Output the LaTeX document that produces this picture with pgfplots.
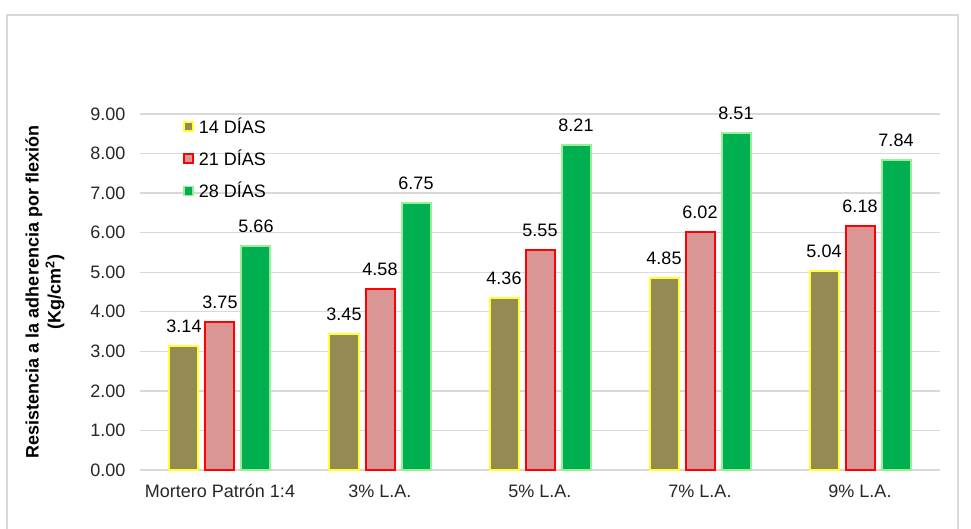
\documentclass[border=0pt]{standalone}
\usepackage{pgfplots}
\pgfplotsset{compat=1.18}
\usepackage{fontspec}
\setmainfont{Liberation Sans}
\definecolor{olive14}{HTML}{948A54}
\definecolor{yel14}{HTML}{FFFF33}
\definecolor{pink21}{HTML}{D99694}
\definecolor{red21}{HTML}{FF0000}
\definecolor{green28}{HTML}{00B050}
\definecolor{lgreen28}{HTML}{99EE99}
\definecolor{gridg}{HTML}{D9D9D9}
\newcommand\myfont{\fontsize{18pt}{22pt}\selectfont}
\begin{document}
\begin{tikzpicture}
\useasboundingbox (-140pt,-58pt) rectangle (831pt,470pt);
\draw[gridg, line width=1.5pt] (-133pt,-80pt) rectangle (818pt,455pt);
\begin{axis}[
  name=ax, at={(0pt,0pt)}, anchor=south west,
  scale only axis, width=800pt, height=356pt,
  xmin=-0.5, xmax=4.5, ymin=0, ymax=9,
  ytick={0,1,...,9},
  xtick={0,1,2,3,4},
  xticklabels={Mortero Patrón 1:4, 3\% L.A., 5\% L.A., 7\% L.A., 9\% L.A.},
  ymajorgrids, grid style={draw=gridg, line width=1.3pt},
  axis lines*=left,
  y axis line style={draw=none},
  x axis line style={draw=gridg, line width=1.3pt, -},
  major tick length=0pt,
  tick style={draw=none},
  /pgf/number format/.cd, fixed, fixed zerofill, precision=2, assume math mode=true,
  /pgfplots/.cd,
  every tick label/.append style={font=\myfont, text=black!85},
  yticklabel style={xshift=-11pt},
  xticklabel style={yshift=-11pt},
  ylabel={Resistencia a la adherencia por flexión\\(Kg/cm\textsuperscript{2})},
  ylabel style={at={(axis description cs:-0.11875,0.5)}, anchor=center, align=center, font=\myfont\bfseries},
  ybar, bar width=29pt,
  nodes near coords,
  every node near coord/.append style={font=\myfont, text=black, yshift=9pt,
     /pgf/number format/.cd, fixed, fixed zerofill, precision=2, assume math mode=true},
  legend style={draw=none, fill=none, at={(0.054,0.995)}, anchor=north west,
     font=\myfont, row sep=11pt, inner sep=0pt, nodes={inner xsep=5pt}},
  legend cell align=left,
  legend image code/.code={\draw[#1, line width=1.5pt] (0pt,-4.5pt) rectangle (9pt,4.5pt);},
  clip=false,
]
\addplot[fill=olive14, draw=yel14, line width=2pt, bar shift=-36pt] coordinates {(0,3.14) (1,3.45) (2,4.36) (3,4.85) (4,5.04)};
\addplot[fill=pink21, draw=red21, line width=2pt, bar shift=0pt] coordinates {(0,3.75) (1,4.58) (2,5.55) (3,6.02) (4,6.18)};
\addplot[fill=green28, draw=lgreen28, line width=2pt, bar shift=36pt] coordinates {(0,5.66) (1,6.75) (2,8.21) (3,8.51) (4,7.84)};
\legend{14 DÍAS, 21 DÍAS, 28 DÍAS}
\end{axis}
\end{tikzpicture}
\end{document}
